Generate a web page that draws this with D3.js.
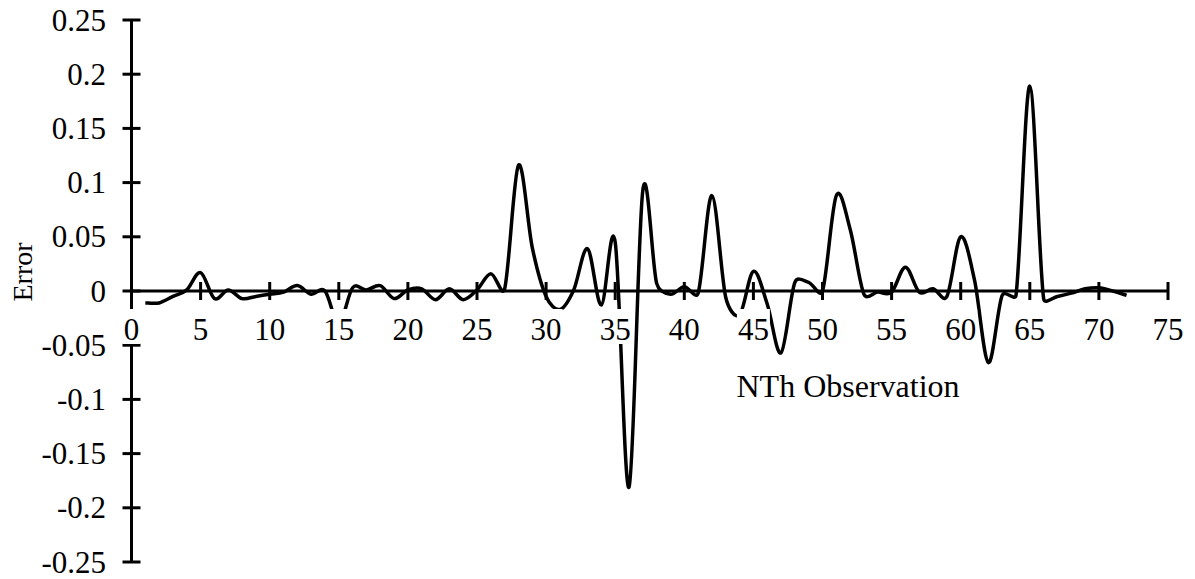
<!DOCTYPE html>
<html>
<head>
<meta charset="utf-8">
<script src="https://cdn.jsdelivr.net/npm/d3@7"></script>
<style>
  html, body { margin: 0; padding: 0; background: #fff; }
  svg { display: block; }
  text { font-family: "Liberation Serif", "Times New Roman", serif; fill: #000; }
</style>
</head>
<body>
<svg id="chart" width="1195" height="579"></svg>
<script>
// Observation index and prediction error
const observations = d3.range(1, 73);
const errors = [
  -0.011, -0.011, -0.005, 0.001, 0.017, -0.007, 0.001, -0.007, -0.005, -0.003,
  -0.001, 0.005, -0.003, 0.000, -0.030, 0.003, 0.001, 0.005, -0.007, 0.001,
  0.002, -0.008, 0.002, -0.008, 0.001, 0.016, 0.002, 0.116, 0.040, -0.005,
  -0.017, 0.001, 0.039, -0.013, 0.045, -0.181, 0.093, 0.007, -0.003, 0.004,
  -0.002, 0.088, -0.006, -0.022, 0.018, -0.012, -0.057, 0.008, 0.008, 0.000,
  0.088, 0.057, -0.003, -0.001, -0.001, 0.022, -0.001, 0.002, -0.005, 0.050,
  0.010, -0.066, -0.004, -0.004, 0.189, -0.007, -0.005, -0.002, 0.002, 0.003,
  0.000, -0.004
];
const xTicks = d3.range(0, 80, 5);
const yTicks = [-0.25, -0.2, -0.15, -0.1, -0.05, 0, 0.05, 0.1, 0.15, 0.2, 0.25];
const xTitle = "NTh Observation";
const yTitle = "Error";

// Spreadsheet-style smoothing: Catmull-Rom tangents (1/6 of the neighbour span),
// each control arm capped at half the segment length.
function SmoothCurve(context) { this._context = context; }
SmoothCurve.prototype = {
  areaStart() {}, areaEnd() {},
  lineStart() { this._pts = []; },
  point(px, py) { this._pts.push([+px, +py]); },
  lineEnd() {
    const p = this._pts, n = p.length, c = this._context;
    if (!n) return;
    c.moveTo(p[0][0], p[0][1]);
    for (let i = 0; i < n - 1; i++) {
      const p0 = p[Math.max(i - 1, 0)], p1 = p[i], p2 = p[i + 1], p3 = p[Math.min(i + 2, n - 1)];
      const half = Math.hypot(p2[0] - p1[0], p2[1] - p1[1]) / 2;
      let ax = (p2[0] - p0[0]) / 6, ay = (p2[1] - p0[1]) / 6;
      let bx = (p3[0] - p1[0]) / 6, by = (p3[1] - p1[1]) / 6;
      const la = Math.hypot(ax, ay), lb = Math.hypot(bx, by);
      if (la > half) { ax *= half / la; ay *= half / la; }
      if (lb > half) { bx *= half / lb; by *= half / lb; }
      c.bezierCurveTo(p1[0] + ax, p1[1] + ay, p2[0] - bx, p2[1] - by, p2[0], p2[1]);
    }
  }
};
const curveSmooth = ctx => new SmoothCurve(ctx);

const svg = d3.select("#chart");
const x = d3.scaleLinear().domain([0, 75]).range([131.5, 1168]);
const y = d3.scaleLinear().domain([-0.25, 0.25]).range([562, 20]);
const x0 = x(0), y0 = y(0);
const fontSize = 31;
const axisWidth = 3;

// y axis (vertical line through x = 0) with crossing ticks
svg.append("line")
  .attr("x1", x0).attr("x2", x0).attr("y1", y(0.25)).attr("y2", y(-0.25))
  .attr("stroke", "#000").attr("stroke-width", axisWidth);
svg.append("g").selectAll("line").data(yTicks).join("line")
  .attr("x1", x0 - 9).attr("x2", x0 + 9)
  .attr("y1", d => y(d)).attr("y2", d => y(d))
  .attr("stroke", "#000").attr("stroke-width", axisWidth);
svg.append("g").selectAll("text").data(yTicks).join("text")
  .attr("x", 106).attr("y", d => y(d))
  .attr("text-anchor", "end").attr("dominant-baseline", "central")
  .style("font-size", fontSize + "px")
  .text(d => String(+d.toFixed(2)));

// x axis (horizontal line through y = 0) with crossing ticks
svg.append("line")
  .attr("x1", x(0)).attr("x2", x(75)).attr("y1", y0).attr("y2", y0)
  .attr("stroke", "#000").attr("stroke-width", axisWidth);
svg.append("g").selectAll("line").data(xTicks).join("line")
  .attr("x1", d => x(d)).attr("x2", d => x(d))
  .attr("y1", y0 - 9).attr("y2", y0 + 9)
  .attr("stroke", "#000").attr("stroke-width", axisWidth);

// smoothed error line
const line = d3.line()
  .x((d, i) => x(observations[i]))
  .y(d => y(d))
  .curve(curveSmooth);
svg.append("path")
  .datum(errors)
  .attr("d", line)
  .attr("fill", "none")
  .attr("stroke", "#000")
  .attr("stroke-width", 3.5)
  .attr("stroke-linejoin", "round");

// x tick labels sit on opaque white boxes
const xl = svg.append("g").selectAll("g").data(xTicks).join("g");
xl.append("text")
  .attr("x", d => x(d)).attr("y", 329)
  .attr("text-anchor", "middle").attr("dominant-baseline", "central")
  .style("font-size", fontSize + "px")
  .text(d => d);
xl.each(function() {
  const g = d3.select(this);
  const bb = g.select("text").node().getBBox();
  g.insert("rect", "text")
    .attr("x", bb.x - 1).attr("y", 309)
    .attr("width", bb.width + 2).attr("height", 35)
    .attr("fill", "#fff");
});

// axis titles
svg.append("text")
  .attr("x", 848).attr("y", 386)
  .attr("text-anchor", "middle").attr("dominant-baseline", "central")
  .style("font-size", "32px")
  .text(xTitle);
svg.append("text")
  .attr("transform", `translate(22,272) rotate(-90)`)
  .attr("text-anchor", "middle").attr("dominant-baseline", "central")
  .style("font-size", "28px")
  .text(yTitle);
</script>
</body>
</html>
